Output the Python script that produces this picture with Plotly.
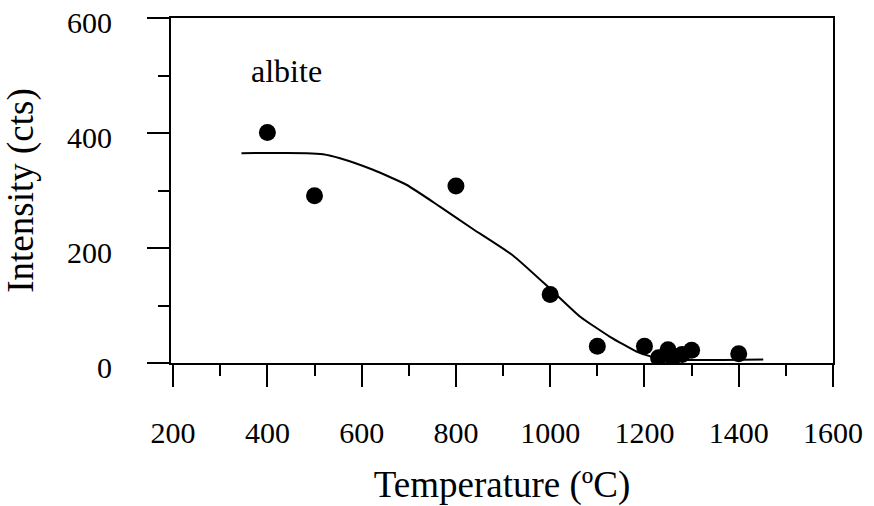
import plotly.graph_objects as go

# measured data points
temp_pts = [400, 500, 800, 1000, 1100, 1200, 1230, 1250, 1260, 1280, 1300, 1400]
intensity_pts = [401, 291, 308, 119, 29, 29, 9, 23, 9, 15, 22, 16]

# fitted curve
curve_t = [345, 483, 518, 554, 624, 695, 766, 836, 921, 1000, 1063, 1126, 1183, 1211, 1243, 1452]
curve_i = [365, 365, 363, 356, 336, 310, 272, 233, 187, 129, 81, 46, 20, 12, 6, 6]

x_ticks = [200, 400, 600, 800, 1000, 1200, 1400, 1600]
y_ticks = [0, 200, 400, 600]

FONT = "Liberation Serif, Times New Roman, serif"

fig = go.Figure()
fig.add_trace(go.Scatter(x=curve_t, y=curve_i, mode="lines",
                         line=dict(color="black", width=2, shape="spline", smoothing=0.5),
                         hoverinfo="skip", showlegend=False))
fig.add_trace(go.Scatter(x=temp_pts, y=intensity_pts, mode="markers",
                         marker=dict(color="black", size=17, line=dict(width=0)),
                         showlegend=False))

fig.add_annotation(x=440, y=507, text="albite", showarrow=False,
                   font=dict(family=FONT, size=32, color="black"))

axis_common = dict(showgrid=False, zeroline=False, showline=True, linecolor="black",
                   linewidth=2, mirror=True, ticks="outside", tickwidth=2,
                   tickcolor="black", ticklen=22, automargin=False,
                   ticklabeloverflow="allow",
                   tickfont=dict(family=FONT, size=30, color="black"))

fig.update_xaxes(range=[195.5, 1600], tickvals=x_ticks, ticktext=[str(v) for v in x_ticks],
                 minor=dict(ticks="outside", ticklen=11, tickwidth=2, tickcolor="black", dtick=100, tick0=0, showgrid=False),
                 ticklabelstandoff=20,
                 title=dict(text="Temperature (ºC)", font=dict(family=FONT, size=37, color="black"), standoff=33),
                 **axis_common)
fig.update_yaxes(range=[0, 600], tickvals=y_ticks, ticktext=[str(v) for v in y_ticks],
                 minor=dict(ticks="outside", ticklen=11, tickwidth=2, tickcolor="black", dtick=100, tick0=0, showgrid=False),
                 ticklabelstandoff=29, ticklabelshift=4,
                 title=dict(text="Intensity (cts)", font=dict(family=FONT, size=37, color="black"), standoff=32),
                 **axis_common)

fig.update_layout(width=874, height=506, margin=dict(l=171, r=41, t=18, b=143),
                  paper_bgcolor="white", plot_bgcolor="white")

# remove the browser's default 8 px body margin so the figure fills the window
fig.write_html("out.html", config={"displayModeBar": False},
               post_script="document.body.style.margin='0';")
